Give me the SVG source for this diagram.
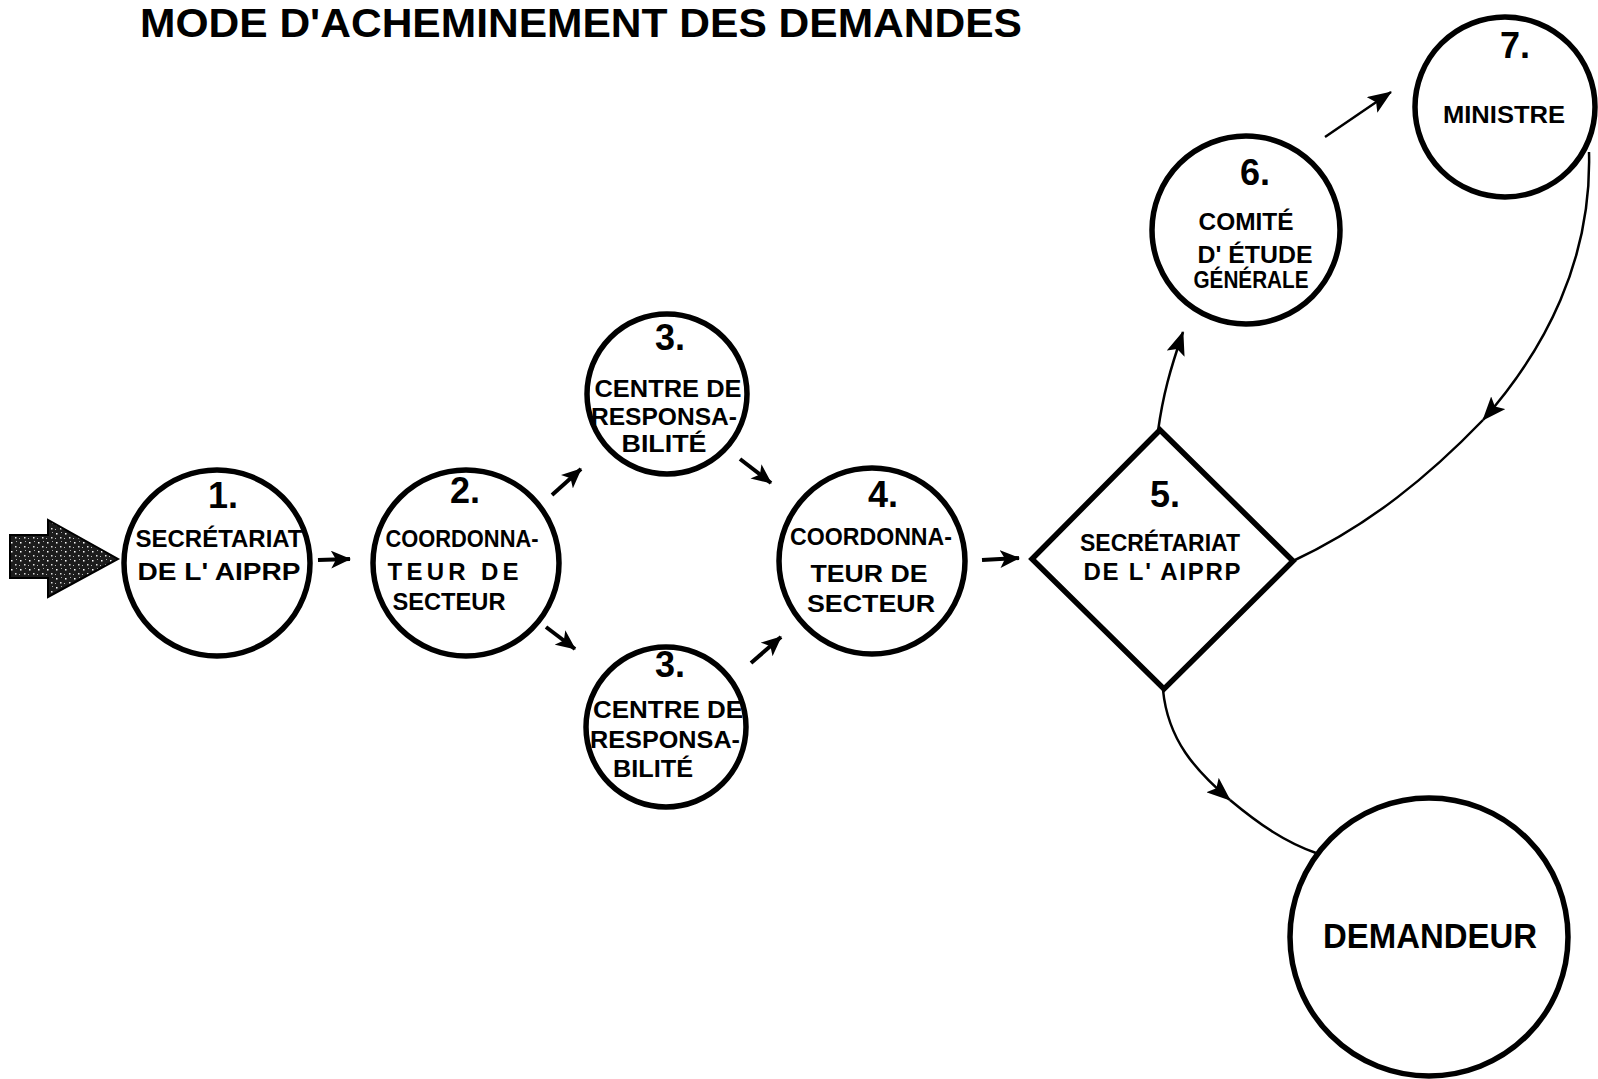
<svg xmlns="http://www.w3.org/2000/svg" width="1598" height="1079" viewBox="0 0 1598 1079">
<style>
.node{fill:#fff;stroke:#000;stroke-width:5.5}
.t{font-family:"Liberation Sans",Arial,sans-serif;font-weight:bold;fill:#000;text-anchor:middle}
.lbl{font-size:24px}
.num{font-size:36px}
.conn{fill:none;stroke:#000;stroke-width:2.5}
.stub{fill:none;stroke:#000;stroke-width:4}
</style>
<defs>
<marker id="sh" viewBox="0 0 20 18" refX="19" refY="9" markerWidth="20" markerHeight="18" markerUnits="userSpaceOnUse" orient="auto">
<path d="M0,0 L20,9 L0,18 L5,9 z" fill="#000"/>
</marker>
<marker id="bh" viewBox="0 0 24 19" refX="23" refY="9.5" markerWidth="24" markerHeight="19" markerUnits="userSpaceOnUse" orient="auto">
<path d="M0,0 L24,9.5 L0,19 L5,9.5 z" fill="#000"/>
</marker>
<pattern id="stipple" width="9" height="9" patternUnits="userSpaceOnUse">
<rect width="9" height="9" fill="#1c1c1c"/>
<rect x="2" y="2" width="1.5" height="1.5" fill="#fff"/>
<rect x="6" y="6" width="1.5" height="1.5" fill="#ddd"/>
<rect x="7" y="1" width="1" height="1" fill="#aaa"/>
<rect x="1" y="7" width="1" height="1" fill="#bbb"/>
</pattern>
</defs>

<text class="t" x="581" y="37" font-size="40" textLength="882" lengthAdjust="spacingAndGlyphs">MODE D'ACHEMINEMENT DES DEMANDES</text>

<g id="entry">
<path d="M10,535 L48,535 L48,520 L118,559 L48,597 L48,578 L10,578 z" fill="url(#stipple)" stroke="#000" stroke-width="2"/>
</g>

<g id="connectors">
<line class="stub" x1="318" y1="560" x2="350" y2="559" marker-end="url(#sh)"/>
<line class="stub" x1="552" y1="495" x2="581" y2="469" marker-end="url(#sh)"/>
<line class="stub" x1="546" y1="627" x2="575" y2="649" marker-end="url(#sh)"/>
<line class="stub" x1="740" y1="459" x2="771" y2="483" marker-end="url(#sh)"/>
<line class="stub" x1="751" y1="663" x2="781" y2="637" marker-end="url(#sh)"/>
<line class="stub" x1="982" y1="560" x2="1019" y2="558" marker-end="url(#sh)"/>
<path class="conn" d="M1158,431 C1163,395 1170,370 1183,332" marker-end="url(#bh)"/>
<line class="conn" x1="1325" y1="137" x2="1391" y2="92" marker-end="url(#bh)"/>
<path class="conn" d="M1589,152 C1592,260 1545,350 1483,420" marker-end="url(#bh)"/>
<path class="conn" d="M1483,420 C1430,475 1370,525 1293,561"/>
<path class="conn" d="M1163,690 C1168,740 1195,770 1230,800" marker-end="url(#bh)"/>
<path class="conn" d="M1230,800 C1260,825 1285,842 1316,853"/>
</g>

<g id="n1">
<circle class="node" cx="217" cy="563" r="93"/>
<text class="t num" x="223" y="508" font-size="39">1.</text>
<text class="t lbl" x="219" y="547" textLength="167" lengthAdjust="spacingAndGlyphs">SECRÉTARIAT</text>
<text class="t lbl" x="219" y="580" textLength="163" lengthAdjust="spacingAndGlyphs">DE L' AIPRP</text>
</g>

<g id="n2">
<circle class="node" cx="466" cy="563" r="93"/>
<text class="t num" x="465" y="503" font-size="35">2.</text>
<text class="t lbl" x="462" y="547" textLength="153" lengthAdjust="spacingAndGlyphs">COORDONNA-</text>
<text class="t lbl" x="453" y="580" textLength="131">TEUR DE</text>
<text class="t lbl" x="449" y="610" textLength="113" lengthAdjust="spacingAndGlyphs">SECTEUR</text>
</g>

<g id="n3a">
<circle class="node" cx="667" cy="394" r="80"/>
<text class="t num" x="670" y="350" font-size="36">3.</text>
<text class="t lbl" x="668" y="397" textLength="147" lengthAdjust="spacingAndGlyphs">CENTRE DE</text>
<text class="t lbl" x="664" y="425" textLength="146" lengthAdjust="spacingAndGlyphs">RESPONSA-</text>
<text class="t lbl" x="664" y="452" textLength="85" lengthAdjust="spacingAndGlyphs">BILITÉ</text>
</g>

<g id="n3b">
<circle class="node" cx="666" cy="727" r="80"/>
<text class="t num" x="670" y="677" font-size="36">3.</text>
<text class="t lbl" x="668" y="718" textLength="150" lengthAdjust="spacingAndGlyphs">CENTRE DE</text>
<text class="t lbl" x="665" y="748" textLength="150" lengthAdjust="spacingAndGlyphs">RESPONSA-</text>
<text class="t lbl" x="653" y="777" textLength="80" lengthAdjust="spacingAndGlyphs">BILITÉ</text>
</g>

<g id="n4">
<circle class="node" cx="872" cy="561" r="93"/>
<text class="t num" x="883" y="507" font-size="34">4.</text>
<text class="t lbl" x="871" y="545" textLength="162" lengthAdjust="spacingAndGlyphs">COORDONNA-</text>
<text class="t lbl" x="869" y="582" textLength="117" lengthAdjust="spacingAndGlyphs">TEUR DE</text>
<text class="t lbl" x="871" y="612" textLength="128" lengthAdjust="spacingAndGlyphs">SECTEUR</text>
</g>

<g id="n5">
<polygon class="node" points="1160,430 1293,561 1164,689 1032,559" stroke-width="6.5"/>
<text class="t num" x="1165" y="507" font-size="37">5.</text>
<text class="t lbl" x="1160" y="551" textLength="160" lengthAdjust="spacingAndGlyphs">SECRÉTARIAT</text>
<text class="t lbl" x="1162" y="580" textLength="157">DE L' AIPRP</text>
</g>

<g id="n6">
<circle class="node" cx="1246" cy="230" r="94"/>
<text class="t num" x="1255" y="185" font-size="36">6.</text>
<text class="t lbl" x="1246" y="230" textLength="95" lengthAdjust="spacingAndGlyphs">COMITÉ</text>
<text class="t lbl" x="1255" y="263" textLength="115" lengthAdjust="spacingAndGlyphs">D' ÉTUDE</text>
<text class="t lbl" x="1251" y="288" textLength="115" lengthAdjust="spacingAndGlyphs">GÉNÉRALE</text>
</g>

<g id="n7">
<circle class="node" cx="1505" cy="107" r="90"/>
<text class="t num" x="1515" y="58" font-size="38">7.</text>
<text class="t" x="1504" y="123" font-size="23" textLength="122" lengthAdjust="spacingAndGlyphs">MINISTRE</text>
</g>

<g id="demandeur">
<circle class="node" cx="1429" cy="937" r="139"/>
<text class="t" x="1430" y="948" font-size="35" textLength="214" lengthAdjust="spacingAndGlyphs">DEMANDEUR</text>
</g>
</svg>
